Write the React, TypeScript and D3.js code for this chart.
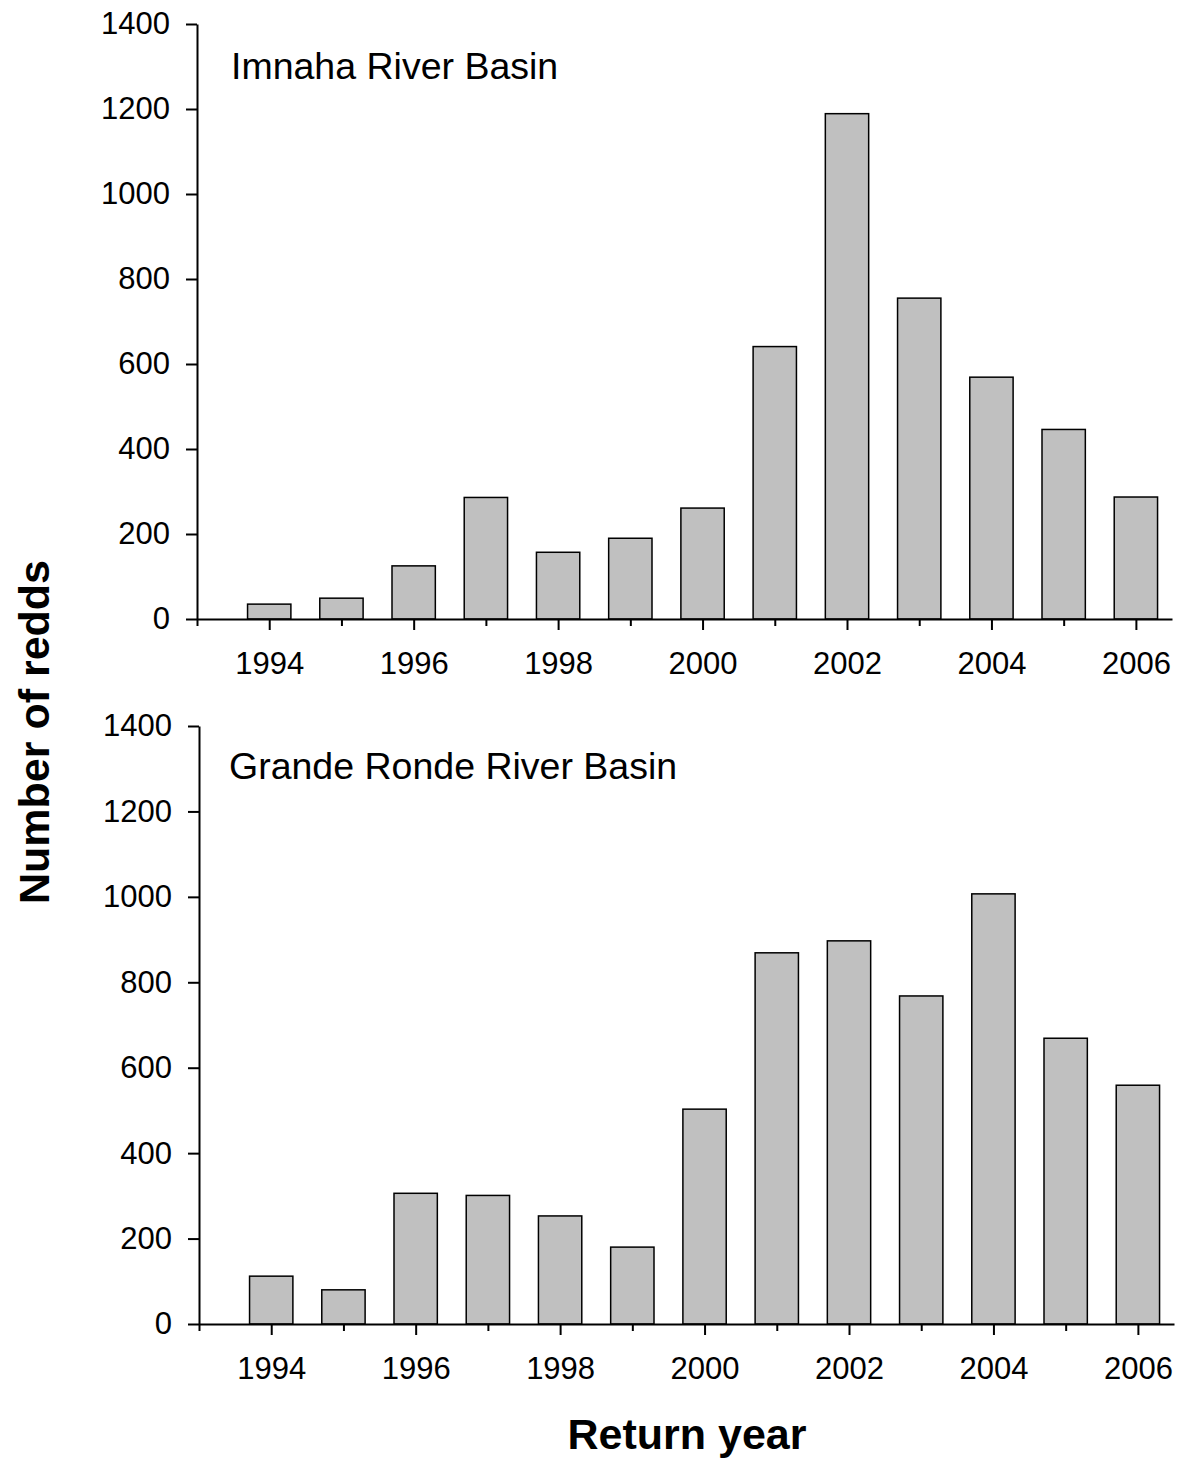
import React, { useEffect, useRef } from "react";
import * as d3 from "d3";

// return years and redd counts
const years = [1994, 1995, 1996, 1997, 1998, 1999, 2000, 2001, 2002, 2003, 2004, 2005, 2006];
const imnaha = [35, 49, 125, 286, 157, 190, 261, 641, 1189, 755, 569, 446, 287];
const grandeRonde = [112, 80, 306, 301, 253, 180, 503, 869, 897, 768, 1007, 669, 559];
const yTicks = [0, 200, 400, 600, 800, 1000, 1200, 1400];
const majorYears = [1994, 1996, 1998, 2000, 2002, 2004, 2006];
const minorYears = [1993, 1995, 1997, 1999, 2001, 2003, 2005];
const panelTitles = ["Imnaha River Basin", "Grande Ronde River Basin"];

const FONT = "'Liberation Sans', Arial, sans-serif";

function App() {
  const ref = useRef<SVGSVGElement>(null);

  useEffect(() => {
    const svg = d3.select(ref.current);
    svg.selectAll("*").remove();

    const panels = [
      { values: imnaha, top: 24, bottom: 619, left: 197, right: 1172 },
      { values: grandeRonde, top: 726, bottom: 1324, left: 199, right: 1174 },
    ];

    panels.forEach((p, idx) => {
      const x = d3.scaleLinear().domain([1993, 2006.5]).range([p.left, p.right]);
      const y = d3.scaleLinear().domain([0, 1400]).range([p.bottom, p.top]);
      const bw = x(1993.6) - x(1993);

      const g = svg.append("g");

      g.selectAll("rect")
        .data(years)
        .enter()
        .append("rect")
        .attr("x", (d) => x(d) - bw / 2)
        .attr("y", (d, i) => y(p.values[i]))
        .attr("width", bw)
        .attr("height", (d, i) => p.bottom - y(p.values[i]))
        .attr("fill", "#c0c0c0")
        .attr("stroke", "#000")
        .attr("stroke-width", 1.5);

      // y axis
      const ya = g
        .append("g")
        .attr("transform", `translate(${p.left},0)`)
        .call(d3.axisLeft(y).tickValues(yTicks).tickSize(11).tickSizeOuter(0).tickPadding(16).tickFormat(d3.format("d")));
      ya.selectAll("text").attr("font-size", 31).attr("font-family", FONT).attr("fill", "#000");

      // x axis, minor ticks first
      const xm = g
        .append("g")
        .attr("transform", `translate(0,${p.bottom})`)
        .call(d3.axisBottom(x).tickValues(minorYears).tickSize(7).tickSizeOuter(0).tickFormat(() => ""));
      xm.select(".domain").remove();

      const xa = g
        .append("g")
        .attr("transform", `translate(0,${p.bottom})`)
        .call(d3.axisBottom(x).tickValues(majorYears).tickSize(11).tickSizeOuter(0).tickPadding(22).tickFormat(d3.format("d")));
      xa.selectAll("text").attr("font-size", 31).attr("font-family", FONT).attr("fill", "#000");

      svg.selectAll(".domain, .tick line").attr("stroke", "#000").attr("stroke-width", 2);

      g.append("text")
        .attr("x", idx === 0 ? 231 : 229)
        .attr("y", idx === 0 ? 79 : 779)
        .attr("font-size", 37.5)
        .attr("font-family", FONT)
        .text(panelTitles[idx]);
    });

    svg.append("text")
      .attr("x", 687)
      .attr("y", 1449)
      .attr("text-anchor", "middle")
      .attr("font-size", 43)
      .attr("font-weight", "bold")
      .attr("font-family", FONT)
      .text("Return year");

    svg.append("text")
      .attr("transform", "translate(49,732) rotate(-90)")
      .attr("text-anchor", "middle")
      .attr("font-size", 43)
      .attr("font-weight", "bold")
      .attr("font-family", FONT)
      .text("Number of redds");
  }, []);

  return (
    <div style={{ position: "absolute", left: 0, top: 0 }}>
      <svg ref={ref} width={1180} height={1460} style={{ display: "block", background: "#fff" }} />
    </div>
  );
}

export default App;
